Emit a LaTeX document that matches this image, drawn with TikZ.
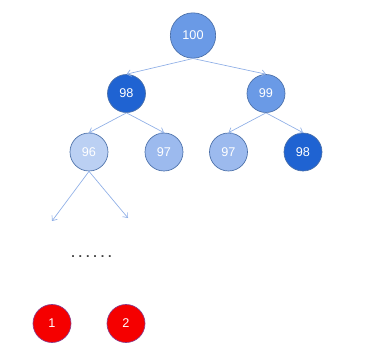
\documentclass[tikz,border=0pt]{standalone}
\usepackage{fontspec}
\setmainfont{Liberation Sans}
\usetikzlibrary{arrows.meta}
\definecolor{cmid}{HTML}{6A9AE6}
\definecolor{cdark}{HTML}{1F63D2}
\definecolor{clight}{HTML}{BBD0F3}
\definecolor{clmid}{HTML}{9CBAEE}
\definecolor{cborder}{HTML}{4A6FA8}
\definecolor{cedge}{HTML}{8EAEE6}
\definecolor{cred}{HTML}{F50000}
\definecolor{credb}{HTML}{8A3C8A}
\tikzset{
  heapnode/.style={circle, draw=cborder, line width=0.5pt, text=white, font=\fontsize{9.5}{11}\selectfont, inner sep=0pt, minimum size=#1},
  redball/.style={circle, draw=credb, fill=cred, line width=0.5pt, text=white, font=\fontsize{9.5}{11}\selectfont, inner sep=0pt, minimum size=28.5pt},
  edge/.style={draw=cedge, line width=0.5pt, -{Straight Barb[length=3pt,width=5pt]}}
}
\newcommand{\dk}{\kern2.9pt}
\begin{document}
\begin{tikzpicture}[x=0.75pt,y=-0.75pt]
\useasboundingbox (0,0) rectangle (379,361);
\node[heapnode=34pt, fill=cmid] (n100) at (193,35.5) {100};
\node[heapnode=28.5pt, fill=cdark] (n98a) at (126.5,93.5) {98};
\node[heapnode=28.5pt, fill=cmid] (n99) at (266,93.5) {99};
\node[heapnode=28.5pt, fill=clight] (n96) at (89,152) {96};
\node[heapnode=28.5pt, fill=clmid] (n97a) at (164,152) {97};
\node[heapnode=28.5pt, fill=clmid] (n97b) at (228.5,152) {97};
\node[heapnode=28.5pt, fill=cdark] (n98b) at (303,152) {98};
\coordinate (e1) at (52,221);
\coordinate (e2) at (128,218);
\node[font=\fontsize{9.5}{11}\selectfont\bfseries, text=black!75] (dots) at (91.5,256.5) {.\dk.\dk.\dk.\dk.\dk.};
\node[redball] (r1) at (52,323.5) {1};
\node[redball] (r2) at (126,323.5) {2};
\draw[edge] (n100.south) -- (n98a.north);
\draw[edge] (n100.south) -- (n99.north);
\draw[edge] (n98a.south) -- (n96.north);
\draw[edge] (n98a.south) -- (n97a.north);
\draw[edge] (n99.south) -- (n97b.north);
\draw[edge] (n99.south) -- (n98b.north);
\draw[edge] (n96.south) -- (e1);
\draw[edge] (n96.south) -- (e2);
\end{tikzpicture}
\end{document}
